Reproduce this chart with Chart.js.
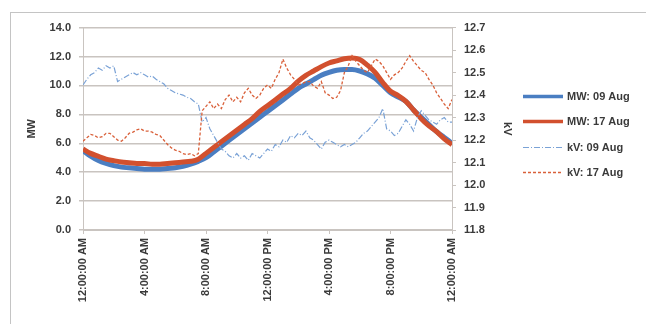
<!DOCTYPE html>
<html>
<head>
<meta charset="utf-8">
<script src="https://cdn.jsdelivr.net/npm/chart.js@4.4.1/dist/chart.umd.min.js"></script>
<style>
  html, body { margin: 0; padding: 0; background: #fff; }
  #frame {
    position: absolute; left: 10px; top: 12px; width: 636px; height: 312px;
    border-left: 1px solid #c4c4c4; border-top: 1px solid #c4c4c4;
  }
  #chart { display: block; }
</style>
</head>
<body>
<div id="frame"><canvas id="chart" width="635" height="311"></canvas></div>
<script>
// time axis: hours since midnight, ticks every 4 h
const tickLabels = ["12:00:00 AM", "4:00:00 AM", "8:00:00 AM", "12:00:00 PM", "4:00:00 PM", "8:00:00 PM", "12:00:00 AM"];

// MW readings, every 30 minutes
const mw09 = [5.5, 5.1, 4.8, 4.6, 4.45, 4.35, 4.3, 4.25, 4.2, 4.2, 4.2, 4.25, 4.3, 4.4, 4.55, 4.75,
    5.0, 5.4, 5.8, 6.2, 6.6, 7.0, 7.4, 7.8, 8.2, 8.6, 9.0, 9.4, 9.8, 10.1, 10.4, 10.7,
    10.9, 11.05, 11.1, 11.1, 11.0, 10.8, 10.5, 10.0, 9.5, 9.2, 8.9, 8.3, 7.8, 7.3, 6.8, 6.4, 6.0];
const mw17 = [5.6, 5.3, 5.1, 4.9, 4.8, 4.7, 4.65, 4.6, 4.6, 4.55, 4.55, 4.6, 4.65, 4.7, 4.75, 4.9,
    5.3, 5.7, 6.1, 6.5, 6.9, 7.3, 7.7, 8.2, 8.6, 9.0, 9.4, 9.8, 10.3, 10.7, 11.0, 11.3,
    11.55, 11.7, 11.85, 11.9, 11.8, 11.4, 10.9, 10.2, 9.6, 9.3, 8.9, 8.3, 7.7, 7.2, 6.8, 6.3, 5.9];

// kV readings, every 15 minutes
const kv09 = [12.445, 12.47, 12.49, 12.50, 12.52, 12.51, 12.53, 12.52, 12.53, 12.46, 12.47, 12.48,
    12.49, 12.50, 12.49, 12.50, 12.49, 12.48, 12.485, 12.47, 12.46, 12.45, 12.43, 12.42,
    12.41, 12.405, 12.40, 12.39, 12.385, 12.37, 12.36, 12.28, 12.30, 12.25, 12.22, 12.19,
    12.16, 12.15, 12.13, 12.12, 12.14, 12.12, 12.13, 12.11, 12.14, 12.13, 12.12, 12.14,
    12.16, 12.15, 12.18, 12.17, 12.20, 12.19, 12.22, 12.21, 12.23, 12.22, 12.24, 12.21,
    12.20, 12.18, 12.16, 12.19, 12.20, 12.19, 12.18, 12.17, 12.18, 12.17, 12.18, 12.19,
    12.21, 12.23, 12.24, 12.26, 12.28, 12.30, 12.34, 12.25, 12.24, 12.22, 12.23, 12.26,
    12.29, 12.27, 12.24, 12.30, 12.33, 12.31, 12.29, 12.28, 12.27, 12.29, 12.30, 12.28, 12.28];
const kv17 = [12.195, 12.21, 12.225, 12.22, 12.21, 12.215, 12.23, 12.23, 12.215, 12.20, 12.195, 12.21,
    12.23, 12.235, 12.245, 12.25, 12.24, 12.24, 12.235, 12.225, 12.22, 12.20, 12.18, 12.165,
    12.155, 12.15, 12.14, 12.135, 12.14, 12.13, 12.14, 12.33, 12.35, 12.37, 12.34, 12.36,
    12.34, 12.38, 12.40, 12.37, 12.39, 12.37, 12.41, 12.43, 12.40, 12.385, 12.40, 12.43,
    12.445, 12.43, 12.47, 12.50, 12.56, 12.52, 12.49, 12.47, 12.445, 12.45, 12.46, 12.46,
    12.44, 12.43, 12.46, 12.41, 12.40, 12.385, 12.39, 12.42, 12.50, 12.53, 12.575, 12.55,
    12.53, 12.51, 12.50, 12.53, 12.56, 12.55, 12.53, 12.50, 12.47, 12.49, 12.50, 12.52,
    12.55, 12.575, 12.55, 12.53, 12.51, 12.50, 12.47, 12.445, 12.41, 12.385, 12.36, 12.34, 12.38];

function toPoints(values, stepHours) {
    return values.map(function (v, i) { return { x: i * stepHours, y: v }; });
}

const textColor = "#3a3a3a";
const gridColor = "#c9c4c0";
const font = { family: "'Liberation Sans', Arial, sans-serif", size: 11, weight: "bold" };

Chart.defaults.font.family = font.family;
Chart.defaults.color = textColor;

// the built-in legend box is capped in width, so the legend is drawn here
const sideLegend = {
    id: "sideLegend",
    afterDraw: function (chart) {
        const ctx = chart.ctx;
        const area = chart.chartArea;
        const x0 = area.right + 71;
        const y0 = area.top + 68;
        ctx.save();
        ctx.font = "bold 11px " + font.family;
        ctx.textBaseline = "middle";
        chart.data.datasets.forEach(function (ds, i) {
            const y = Math.round(y0 + i * 25.5) + 0.5;
            ctx.strokeStyle = ds.borderColor;
            ctx.lineWidth = Math.min(ds.borderWidth, 3.5);
            ctx.setLineDash(ds.borderDash || []);
            ctx.beginPath();
            ctx.moveTo(x0, y);
            ctx.lineTo(x0 + 40, y);
            ctx.stroke();
            ctx.setLineDash([]);
            ctx.fillStyle = textColor;
            ctx.fillText(ds.label, x0 + 44, y);
        });
        ctx.restore();
    }
};

new Chart(document.getElementById("chart"), {
    type: "line",
    data: {
        datasets: [
            {
                label: "MW: 09 Aug", data: toPoints(mw09, 0.5), yAxisID: "y",
                borderColor: "#4a7ec2", backgroundColor: "#4a7ec2", borderWidth: 5,
                cubicInterpolationMode: "monotone", order: 4
            },
            {
                label: "MW: 17 Aug", data: toPoints(mw17, 0.5), yAxisID: "y",
                borderColor: "#d2502e", backgroundColor: "#d2502e", borderWidth: 5,
                cubicInterpolationMode: "monotone", order: 3
            },
            {
                label: "kV: 09 Aug", data: toPoints(kv09, 0.25), yAxisID: "y1",
                borderColor: "#7aa2d6", backgroundColor: "#7aa2d6", borderWidth: 1.2,
                borderDash: [6, 2, 1, 2], order: 2
            },
            {
                label: "kV: 17 Aug", data: toPoints(kv17, 0.25), yAxisID: "y1",
                borderColor: "#d9603a", backgroundColor: "#d9603a", borderWidth: 1.3,
                borderDash: [3, 2], order: 1
            }
        ]
    },
    plugins: [sideLegend],
    options: {
        responsive: false,
        animation: false,
        elements: { point: { radius: 0 }, line: { borderCapStyle: "butt" } },
        layout: { padding: { top: 13, left: 0, right: 128, bottom: 0 } },
        plugins: {
            tooltip: { enabled: false },
            legend: { display: false }
        },
        scales: {
            x: {
                type: "linear",
                min: 0, max: 24,
                ticks: {
                    stepSize: 4, autoSkip: false, maxRotation: 90, minRotation: 90,
                    font: font, color: textColor, padding: 4,
                    callback: function (v) { return tickLabels[v / 4]; }
                },
                grid: { drawOnChartArea: false, tickLength: 4, color: gridColor },
                border: { color: gridColor },
                afterFit: function (s) { s.height = 94; }
            },
            y: {
                position: "left",
                min: 0, max: 14,
                ticks: {
                    stepSize: 2, font: font, color: textColor, padding: 8,
                    callback: function (v) { return v.toFixed(1); }
                },
                grid: { color: gridColor, lineWidth: 1.5, tickLength: 4 },
                border: { color: gridColor },
                title: { display: true, text: "MW", font: font, color: textColor, padding: { top: 14, bottom: 4 } },
                afterFit: function (s) { s.width = 72; }
            },
            y1: {
                position: "right",
                min: 11.8, max: 12.7,
                ticks: {
                    stepSize: 0.1, font: font, color: textColor, padding: 8,
                    callback: function (v) { return v.toFixed(1); }
                },
                grid: { drawOnChartArea: false, tickLength: 4, color: gridColor },
                border: { color: gridColor },
                title: { display: true, text: "kV", font: font, color: textColor },
                afterFit: function (s) { s.width = 66; }
            }
        }
    }
});
</script>
</body>
</html>
